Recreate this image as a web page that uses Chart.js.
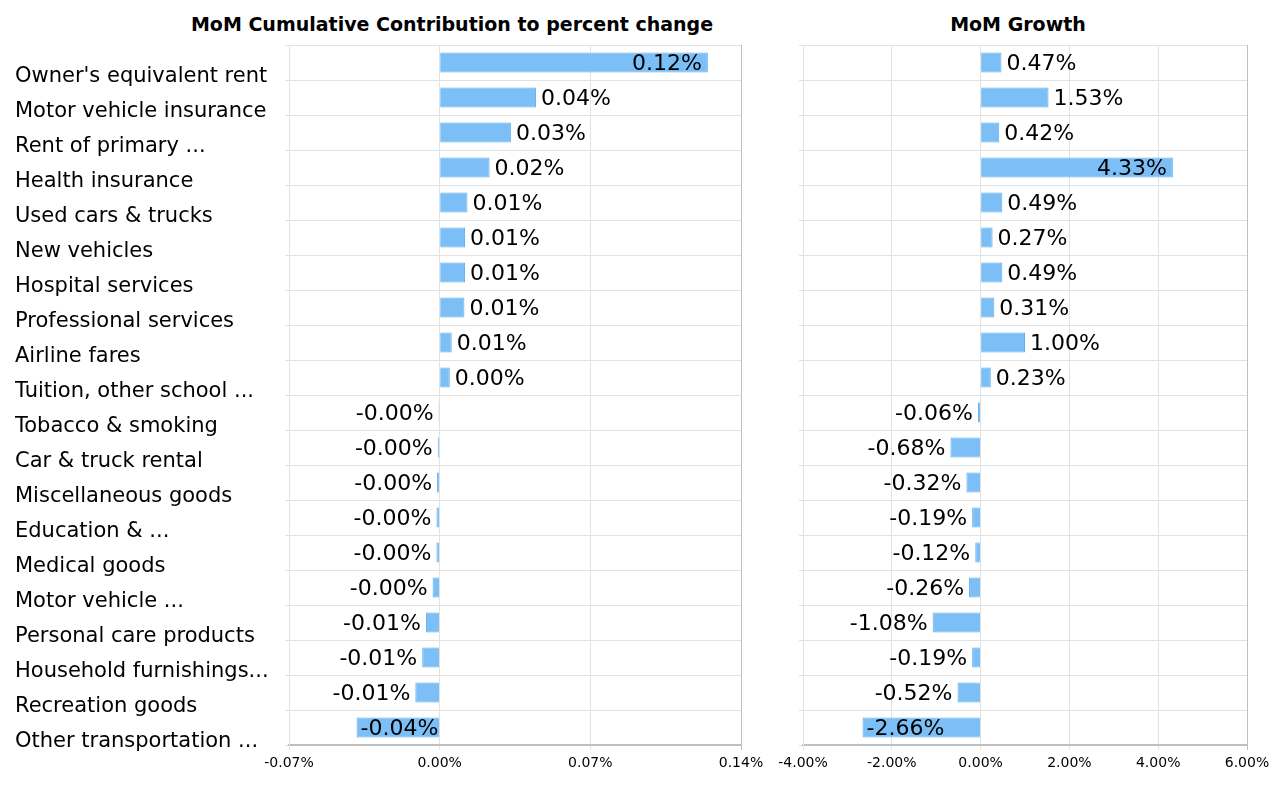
<!DOCTYPE html>
<html>
<head>
<meta charset="utf-8">
<script src="https://cdn.jsdelivr.net/npm/chart.js@4.4.1/dist/chart.umd.min.js"></script>
<style>
  html, body { margin: 0; padding: 0; background: #fff; }
  body { width: 1280px; height: 800px; position: relative; overflow: hidden; font-family: "DejaVu Sans", Verdana, sans-serif; }
  .title { position: absolute; top: 13px; width: 700px; line-height: 22px; text-align: center; font-weight: bold; font-size: 19px; color: #000; white-space: nowrap; }
  #title-contrib { left: 102px; }
  #title-growth { left: 668px; }
  canvas { position: absolute; top: 0; }
  #chart-contrib { left: 0; }
  #chart-growth { left: 770px; }
</style>
</head>
<body>
<div class="title" id="title-contrib">MoM Cumulative Contribution to percent change</div>
<div class="title" id="title-growth">MoM Growth</div>
<canvas id="chart-contrib" width="770" height="800"></canvas>
<canvas id="chart-growth" width="510" height="800"></canvas>
<script>
const categories = [
  "Owner's equivalent rent", 'Motor vehicle insurance', 'Rent of primary ...', 'Health insurance',
  'Used cars & trucks', 'New vehicles', 'Hospital services', 'Professional services',
  'Airline fares', 'Tuition, other school ...', 'Tobacco & smoking', 'Car & truck rental',
  'Miscellaneous goods', 'Education & ...', 'Medical goods', 'Motor vehicle ...',
  'Personal care products', 'Household furnishings...', 'Recreation goods', 'Other transportation ...'
];

const contribution = [
  0.1246, 0.0448, 0.0331, 0.0232, 0.0129, 0.0118, 0.0118, 0.0115, 0.0056, 0.0047,
  -0.0005, -0.0009, -0.0012, -0.0015, -0.0015, -0.0033, -0.0064, -0.0081, -0.0113, -0.0386
];

const growth = [
  0.47, 1.53, 0.42, 4.33, 0.49, 0.27, 0.49, 0.31, 1.00, 0.23,
  -0.06, -0.68, -0.32, -0.19, -0.12, -0.26, -1.08, -0.19, -0.52, -2.66
];

const contribTicks = [-0.07, 0, 0.07, 0.14];
const growthTicks = [-4, -2, 0, 2, 4, 6];

const colors = {
  bar: '#7cbff6',
  barBorder: '#5eaef0',
  grid: '#e2e2e2',
  frame: '#bfbfbf',
  text: '#000'
};
const fontFamily = '"DejaVu Sans", Verdana, sans-serif';

function pct(v) {
  if (Math.abs(v) < 1e-9) v = 0;
  return v.toFixed(2) + '%';
}

// value labels: outside the bar end when there is room, inside otherwise
const valueLabels = {
  id: 'valueLabels',
  afterDatasetsDraw(chart) {
    const ctx = chart.ctx;
    const area = chart.chartArea;
    const values = chart.data.datasets[0].data;
    ctx.save();
    ctx.font = '22px ' + fontFamily;
    ctx.fillStyle = colors.text;
    ctx.textBaseline = 'middle';
    chart.getDatasetMeta(0).data.forEach((bar, i) => {
      const v = values[i];
      const text = pct(v);
      const w = ctx.measureText(text).width;
      if (v >= 0) {
        if (area.right - bar.x >= w + 16) {
          ctx.textAlign = 'left';
          ctx.fillText(text, bar.x + 5, bar.y + 2);
        } else {
          ctx.textAlign = 'right';
          ctx.fillText(text, bar.x - 6, bar.y + 2);
        }
      } else {
        if (bar.x - area.left >= w + 16) {
          ctx.textAlign = 'right';
          ctx.fillText(text, bar.x - 5, bar.y + 2);
        } else {
          ctx.textAlign = 'left';
          ctx.fillText(text, bar.x + 4, bar.y + 2);
        }
      }
    });
    ctx.restore();
  }
};

function renderBars(canvasId, values, tickValues, showLabels, padding, axisWidth) {
  const max = tickValues[tickValues.length - 1];
  new Chart(document.getElementById(canvasId), {
    type: 'bar',
    data: {
      labels: categories,
      datasets: [{
        data: values,
        backgroundColor: colors.bar,
        borderColor: colors.barBorder,
        borderWidth: 1,
        barPercentage: 0.57,
        categoryPercentage: 1
      }]
    },
    options: {
      indexAxis: 'y',
      responsive: false,
      animation: false,
      layout: { padding: padding },
      plugins: {
        legend: { display: false },
        tooltip: { enabled: false }
      },
      scales: {
        x: {
          min: tickValues[0],
          max: max,
          afterBuildTicks: s => { s.ticks = tickValues.map(value => ({ value })); },
          afterFit: s => { s.height = 55; },
          grid: {
            color: c => (c.tick && c.tick.value === max ? colors.frame : colors.grid),
            tickLength: 5
          },
          border: { color: colors.frame, width: 2 },
          ticks: {
            color: colors.text,
            font: { family: fontFamily, size: 14 },
            padding: 5,
            maxRotation: 0,
            autoSkip: false,
            callback: v => pct(v)
          }
        },
        y: {
          afterFit: s => { s.width = axisWidth; },
          grid: { color: colors.grid, tickLength: 4 },
          border: { color: colors.grid },
          ticks: {
            display: showLabels,
            color: colors.text,
            font: { family: fontFamily, size: 21 },
            crossAlign: 'far',
            labelOffset: 14,
            autoSkip: false
          }
        }
      }
    },
    plugins: [valueLabels]
  });
}

renderBars('chart-contrib', contribution, contribTicks, true, { left: 15, right: 29, top: 45, bottom: 0 }, 274);
renderBars('chart-growth', growth, growthTicks, false, { left: 29, right: 33, top: 45, bottom: 0 }, 4);
</script>
</body>
</html>
